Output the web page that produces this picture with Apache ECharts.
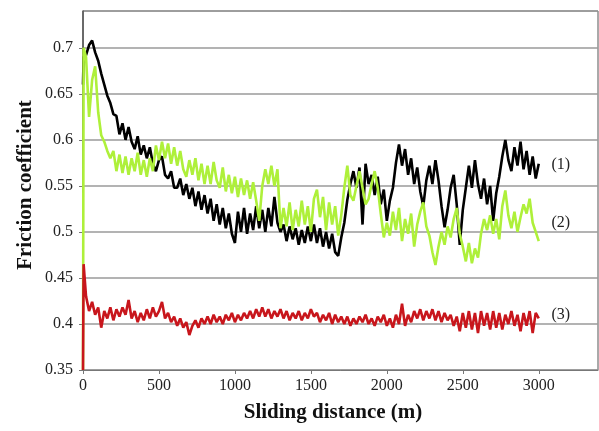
<!DOCTYPE html>
<html>
<head>
<meta charset="utf-8">
<script src="https://cdn.jsdelivr.net/npm/echarts@6/dist/echarts.min.js"></script>
<style>html,body{margin:0;padding:0;background:#fff}#c{width:599px;height:431px}</style>
</head>
<body>
<div id="c"></div>
<script>
// Sliding distance (m) sample points
const distance = [0,4,
20,40,60,80,100,120,140,160,180,200,220,240,260,280,300,320,340,360,380,400,
420,440,460,480,500,520,540,560,580,600,620,640,660,680,700,720,740,760,780,800,
820,840,860,880,900,920,940,960,980,1000,1020,1040,1060,1080,1100,1120,1140,1160,1180,1200,
1220,1240,1260,1280,1300,1320,1340,1360,1380,1400,1420,1440,1460,1480,1500,1520,1540,1560,1580,1600,
1620,1640,1660,1680,1700,1720,1740,1760,1780,1800,1820,1840,1860,1880,1900,1920,1940,1960,1980,2000,
2020,2040,2060,2080,2100,2120,2140,2160,2180,2200,2220,2240,2260,2280,2300,2320,2340,2360,2380,2400,
2420,2440,2460,2480,2500,2520,2540,2560,2580,2600,2620,2640,2660,2680,2700,2720,2740,2760,2780,2800,
2820,2840,2860,2880,2900,2920,2940,2960,2980,3000];

// (1) black
const curve1 = [0.66,0.69,
0.692,0.703,0.708,0.695,0.686,0.672,0.660,0.648,0.640,0.628,
0.626,0.606,0.618,0.600,0.614,0.598,0.590,0.604,0.584,0.594,
0.580,0.592,0.574,0.566,0.578,0.582,0.562,0.558,0.566,0.548,
0.548,0.558,0.540,0.552,0.536,0.548,0.528,0.544,0.524,0.540,
0.520,0.536,0.512,0.530,0.508,0.526,0.504,0.520,0.498,0.488,
0.522,0.500,0.526,0.498,0.520,0.502,0.528,0.504,0.524,0.500,
0.526,0.506,0.538,0.510,0.500,0.508,0.490,0.506,0.492,0.504,
0.486,0.502,0.488,0.506,0.490,0.508,0.488,0.504,0.484,0.500,
0.482,0.498,0.478,0.474,0.494,0.510,0.535,0.552,0.566,0.548,
0.570,0.508,0.574,0.552,0.562,0.540,0.560,0.530,0.546,0.512,
0.534,0.548,0.575,0.595,0.572,0.590,0.562,0.580,0.552,0.570,
0.544,0.528,0.556,0.572,0.552,0.578,0.556,0.528,0.505,0.524,
0.548,0.562,0.530,0.486,0.524,0.548,0.572,0.548,0.578,0.552,
0.536,0.558,0.530,0.550,0.512,0.542,0.560,0.582,0.600,0.578,
0.566,0.592,0.572,0.598,0.568,0.588,0.562,0.582,0.558,0.574];

// (2) green
const curve2 = [0.35,0.70,
0.690,0.625,0.665,0.680,0.630,0.605,0.598,0.588,0.580,0.588,
0.566,0.584,0.564,0.582,0.562,0.580,0.566,0.586,0.562,0.578,
0.560,0.580,0.566,0.594,0.578,0.598,0.580,0.596,0.574,0.592,
0.572,0.588,0.568,0.560,0.578,0.562,0.580,0.556,0.574,0.552,
0.572,0.552,0.576,0.556,0.548,0.570,0.544,0.562,0.542,0.560,
0.538,0.558,0.540,0.556,0.536,0.554,0.534,0.512,0.550,0.568,
0.552,0.572,0.550,0.568,0.504,0.526,0.506,0.532,0.502,0.524,
0.506,0.534,0.508,0.528,0.500,0.536,0.546,0.516,0.538,0.502,
0.532,0.508,0.528,0.496,0.518,0.548,0.572,0.540,0.534,0.550,
0.566,0.548,0.530,0.536,0.552,0.566,0.548,0.520,0.494,0.510,
0.496,0.522,0.502,0.526,0.490,0.514,0.498,0.520,0.484,0.508,
0.522,0.532,0.506,0.496,0.478,0.464,0.484,0.500,0.486,0.506,
0.494,0.514,0.526,0.498,0.484,0.468,0.488,0.466,0.482,0.472,
0.498,0.514,0.502,0.518,0.498,0.514,0.492,0.528,0.545,0.518,
0.504,0.522,0.500,0.516,0.530,0.520,0.536,0.510,0.500,0.490];

// (3) red
const curve3 = [0.35,0.465,
0.430,0.414,0.424,0.410,0.418,0.396,0.414,0.406,0.418,0.404,
0.416,0.408,0.418,0.410,0.426,0.406,0.414,0.402,0.412,0.404,
0.416,0.406,0.418,0.408,0.414,0.424,0.406,0.412,0.402,0.408,
0.398,0.406,0.396,0.402,0.388,0.398,0.404,0.396,0.406,0.400,
0.408,0.400,0.410,0.402,0.408,0.400,0.410,0.404,0.412,0.402,
0.410,0.404,0.412,0.406,0.414,0.406,0.416,0.408,0.418,0.408,
0.416,0.406,0.414,0.408,0.416,0.406,0.414,0.404,0.412,0.406,
0.414,0.404,0.412,0.406,0.416,0.408,0.412,0.402,0.410,0.404,
0.412,0.400,0.410,0.402,0.408,0.400,0.408,0.398,0.406,0.400,
0.408,0.402,0.410,0.400,0.406,0.398,0.408,0.402,0.410,0.398,
0.406,0.396,0.410,0.400,0.422,0.398,0.410,0.402,0.414,0.406,
0.416,0.404,0.414,0.406,0.416,0.404,0.414,0.402,0.412,0.404,
0.410,0.398,0.408,0.392,0.412,0.396,0.414,0.394,0.412,0.390,
0.414,0.398,0.412,0.394,0.414,0.396,0.412,0.394,0.410,0.400,
0.414,0.398,0.410,0.392,0.412,0.398,0.414,0.390,0.412,0.406];

const curveLabels = ['(1)','(2)','(3)'];
const labelPos = [[3145,0.573],[3145,0.510],[3145,0.410]];

const serif = '"Liberation Serif","DejaVu Serif",serif';
const pairs = v => distance.map((d,i)=>[d,v[i]]);

const chart = echarts.init(document.getElementById('c'), null, {renderer:'canvas'});
const mk = (name, data, color, idx) => ({
  type:'line', name, data:pairs(data), showSymbol:false, symbol:'none',
  lineStyle:{color, width:2.6, join:'bevel'}, itemStyle:{color}, animation:false, z:2+idx,
  markPoint:{symbol:'circle', symbolSize:0, silent:true, animation:false,
    label:{show:true, position:'inside', formatter:curveLabels[idx], color:'#222',
      fontFamily:serif, fontSize:16},
    data:[{coord:labelPos[idx]}]}
});
chart.setOption({
  animation:false,
  backgroundColor:'#fff',
  grid:{left:83, top:11, right:1, bottom:61, show:true, borderColor:'#555', borderWidth:1},
  xAxis:{type:'value', min:0, max:3390, interval:500,
    axisLine:{show:true, lineStyle:{color:'#777', width:1}},
    axisTick:{show:true, length:4, lineStyle:{color:'#777'}},
    splitLine:{show:false},
    axisLabel:{showMaxLabel:false, color:'#222', fontFamily:serif, fontSize:16, margin:8,
      formatter: v => String(v)}
  },
  yAxis:{type:'value', min:0.35, max:0.74, interval:0.05,
    axisLine:{show:true, lineStyle:{color:'#555', width:1.5}},
    axisTick:{show:true, length:4, lineStyle:{color:'#777'}},
    splitLine:{show:true, lineStyle:{color:'#9a9a9a', width:1.5}},
    axisLabel:{showMaxLabel:false, color:'#222', fontFamily:serif, fontSize:16, margin:10}
  },
  graphic:[
    {type:'text', style:{text:'Sliding distance (m)', fontFamily:serif, fontWeight:'bold', fontSize:21, fill:'#111', textAlign:'center', textVerticalAlign:'middle'}, x:333, y:413, silent:true},
    {type:'text', style:{text:'Friction coefficient', fontFamily:serif, fontWeight:'bold', fontSize:21, fill:'#111', textAlign:'center', textVerticalAlign:'middle'}, x:26, y:185, rotation:Math.PI/2, silent:true}
  ],
  series:[
    mk('(2)', curve2, '#aef03a', 1),
    mk('(1)', curve1, '#000000', 0),
    mk('(3)', curve3, '#c8161c', 2)
  ]
});
</script>
</body>
</html>
